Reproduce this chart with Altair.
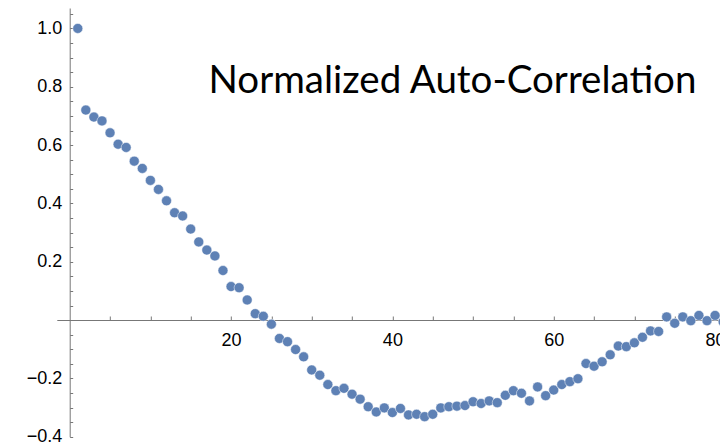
import altair as alt
import pandas as pd

# ---- data ----
lags = list(range(1, 82))
acf = [
    1.0, 0.72, 0.696, 0.683, 0.642, 0.603, 0.592, 0.545, 0.52, 0.479,
    0.448, 0.409, 0.368, 0.357, 0.312, 0.268, 0.24, 0.22, 0.17, 0.115,
    0.111, 0.069, 0.022, 0.013, -0.014, -0.063, -0.074, -0.101, -0.126, -0.171,
    -0.189, -0.221, -0.242, -0.234, -0.254, -0.271, -0.297, -0.315, -0.301, -0.317,
    -0.303, -0.325, -0.323, -0.331, -0.323, -0.301, -0.297, -0.295, -0.293, -0.28,
    -0.286, -0.277, -0.283, -0.258, -0.242, -0.251, -0.277, -0.229, -0.259, -0.24,
    -0.221, -0.211, -0.201, -0.149, -0.158, -0.143, -0.119, -0.089, -0.091, -0.078,
    -0.059, -0.037, -0.039, 0.011, -0.011, 0.011, -0.002, 0.016, -0.002, 0.016,
    -0.006,
]
title_text = ["Normalized Auto-Correlation"]
x_ticks = [5, 10, 15, 20, 25, 30, 35, 40, 45, 50, 55, 60, 65, 70, 75, 80]
y_ticks = [-0.4, -0.35, -0.3, -0.25, -0.2, -0.15, -0.1, -0.05,
           0.05, 0.1, 0.15, 0.2, 0.25, 0.3, 0.35, 0.4, 0.45, 0.5, 0.55,
           0.6, 0.65, 0.7, 0.75, 0.8, 0.85, 0.9, 0.95, 1.0, 1.05]

df = pd.DataFrame({"lag": lags, "acf": acf})
tdf = pd.DataFrame({"t": title_text})

W = 663.1
H = 428.75
AXIS_GRAY = "#777777"
LABEL_FONT = "Liberation Sans"

points = alt.Chart(df).mark_circle(
    size=100, color="#5E81B5", opacity=1, stroke="white", strokeWidth=0.5
).encode(
    x=alt.X(
        "lag:Q",
        scale=alt.Scale(domain=[-1.6, 80.6], nice=False, zero=False),
        axis=alt.Axis(
            orient="top", offset=-312, values=x_ticks,
            labelExpr="datum.value % 20 == 0 ? datum.value : ''",
            tickSize=4, tickColor=AXIS_GRAY, domainColor=AXIS_GRAY,
            labelPadding=-29, labelBaseline="alphabetic", labelAlign="center",
            labelFont=LABEL_FONT, labelFontSize=18, labelColor="black",
            labelOverlap=False, labelBound=False, grid=False, title=None,
        ),
    ),
    y=alt.Y(
        "acf:Q",
        scale=alt.Scale(domain=[-0.4, 1.07], nice=False, zero=False),
        axis=alt.Axis(
            orient="right", offset=-650.2, values=y_ticks,
            labelExpr="abs(datum.value*5 - round(datum.value*5)) < 0.001 ? format(datum.value, '.1f') : ''",
            tickSize=3, tickColor=AXIS_GRAY, domainColor=AXIS_GRAY,
            labelPadding=-11, labelAlign="right", labelBaseline="middle",
            labelFont=LABEL_FONT, labelFontSize=18, labelColor="black",
            labelOverlap=False, labelBound=False, grid=False, title=None,
        ),
    ),
)

title = alt.Chart(tdf).mark_text(
    font="Lato", fontSize=38.5, color="black", align="center", baseline="alphabetic"
).encode(
    x=alt.value(395.7), y=alt.value(85.3), text="t:N"
)

chart = alt.layer(points, title).properties(
    width=W, height=H,
    autosize=alt.AutoSizeParams(type="none"),
    padding={"left": 56.8, "top": 8, "right": 0.1, "bottom": 9.25},
).configure_view(stroke=None)

chart.save("out.html", embed_options={"renderer": "svg", "actions": False})
